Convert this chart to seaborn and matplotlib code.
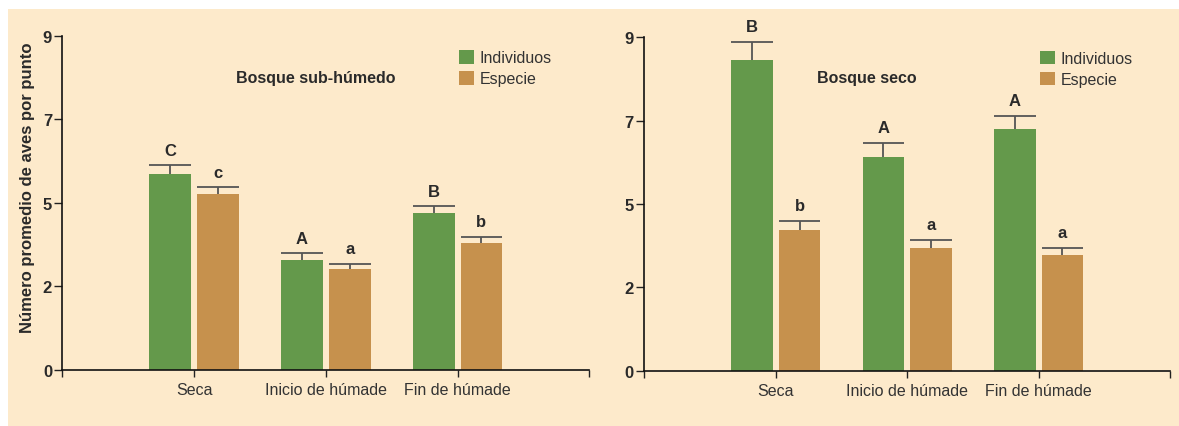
import matplotlib
matplotlib.use("Agg")
import matplotlib.pyplot as plt
from matplotlib.patches import Rectangle, Patch
import pandas as pd
import seaborn as sns

# Periods and groups
periodos = ["Seca", "Inicio de húmade", "Fin de húmade"]
grupos = ["Individuos", "Especie"]

# Bosque sub-húmedo: means, standard errors and significance letters
sub_individuos = [5.27, 2.96, 4.22]
sub_individuos_ee = [0.24, 0.18, 0.18]
sub_especie = [4.73, 2.71, 3.42]
sub_especie_ee = [0.18, 0.14, 0.16]
sub_ind_letras = ["C", "A", "B"]
sub_esp_letras = ["c", "a", "b"]

# Bosque seco
seco_individuos = [8.39, 5.77, 6.52]
seco_individuos_ee = [0.48, 0.39, 0.36]
seco_especie = [3.80, 3.31, 3.13]
seco_especie_ee = [0.24, 0.22, 0.18]
seco_ind_letras = ["B", "A", "A"]
seco_esp_letras = ["b", "a", "a"]

# Y axis ticks (labels are rounded values)
y_ticks = [0, 2.25, 4.5, 6.75, 9]
y_tick_labels = ["0", "2", "5", "7", "9"]

VERDE = "#64994b"
OCRE = "#c6914d"
FONDO = "#fdeacb"
BARRA_ERR = "#555555"
TEXTO = "#2a2a2a"

sns.set_theme(style="ticks")
plt.rcParams["font.family"] = ["Liberation Sans", "DejaVu Sans"]

fig = plt.figure(figsize=(11.79, 4.27), dpi=100)
fig.patch.set_facecolor("white")
fig.patches.append(Rectangle((8 / 1179, 0), 1, 1 - 10 / 427, transform=fig.transFigure,
                             facecolor=FONDO, edgecolor="none", zorder=-10))

ax1 = fig.add_axes([0.0530, 0.1319, 0.4468, 0.7822])
ax2 = fig.add_axes([0.5465, 0.1295, 0.4459, 0.7808])


def panel(ax, titulo, ind, ind_ee, esp, esp_ee, ind_let, esp_let, titulo_xy, leyenda_xy):
    df = pd.DataFrame({
        "periodo": periodos * 2,
        "grupo": [grupos[0]] * len(periodos) + [grupos[1]] * len(periodos),
        "valor": ind + esp,
    })
    sns.barplot(data=df, x="periodo", y="valor", hue="grupo", order=periodos,
                hue_order=grupos, palette=[VERDE, OCRE], width=0.725, gap=0.125,
                errorbar=None, saturation=1, legend=False, ax=ax, zorder=2,
                linewidth=0, edgecolor="none")
    ax.set_facecolor("none")

    # one-sided error bars with a cap as wide as the bar, plus letters
    for cont, errs, letras in zip(ax.containers, [ind_ee, esp_ee], [ind_let, esp_let]):
        for bar, e, letra in zip(cont, errs, letras):
            x0, w, h = bar.get_x(), bar.get_width(), bar.get_height()
            xc = x0 + w / 2
            ax.vlines(xc, h, h + e, color=BARRA_ERR, lw=1.3, zorder=3)
            ax.hlines(h + e, x0, x0 + w, color=BARRA_ERR, lw=1.3, zorder=3)
            ax.annotate(letra, (xc, h + e), xytext=(0, 5.5), textcoords="offset points",
                        ha="center", va="bottom", fontsize=12, fontweight="bold",
                        color=TEXTO)

    ax.set_xlim(-1, len(periodos))
    ax.set_xticks(range(-1, len(periodos) + 1))
    ax.set_xticklabels([""] + periodos + [""], fontsize=11.5, color="#333333")
    ax.set_ylim(0, 9)
    ax.set_yticks(y_ticks)
    ax.set_yticklabels(y_tick_labels, fontsize=12, fontweight="bold", color=TEXTO)
    ax.set_xlabel("")
    ax.set_ylabel("")
    ax.tick_params(axis="y", direction="out", length=6, width=1, color="#222222", pad=1.5)
    ax.tick_params(axis="x", direction="out", length=5, width=1, color="#222222", pad=4)
    for s in ("top", "right"):
        ax.spines[s].set_visible(False)
    for s in ("left", "bottom"):
        ax.spines[s].set_color("#111111")
        ax.spines[s].set_linewidth(1.2)

    ax.text(titulo_xy[0], titulo_xy[1], titulo, transform=ax.transAxes, ha="center",
            va="center", fontsize=11.5, fontweight="bold", color=TEXTO)

    handles = [Patch(facecolor=VERDE, edgecolor="none"), Patch(facecolor=OCRE, edgecolor="none")]
    ax.legend(handles, grupos, loc="upper left", bbox_to_anchor=leyenda_xy, frameon=False,
              fontsize=11.5, handlelength=0.95, handleheight=0.95, handletextpad=0.35,
              labelspacing=0.35, borderpad=0, borderaxespad=0, labelcolor="#333333")


panel(ax1, "Bosque sub-húmedo", sub_individuos, sub_individuos_ee, sub_especie,
      sub_especie_ee, sub_ind_letras, sub_esp_letras, (0.481, 0.876), (0.753, 0.957))
panel(ax2, "Bosque seco", seco_individuos, seco_individuos_ee, seco_especie,
      seco_especie_ee, seco_ind_letras, seco_esp_letras, (0.423, 0.878), (0.753, 0.960))

fig.text(28 / 1179, 0.561, "Número promedio de aves por punto", rotation=90,
         ha="center", va="center", fontsize=12, fontweight="bold", color=TEXTO)

fig.savefig("out.png", dpi=100)
